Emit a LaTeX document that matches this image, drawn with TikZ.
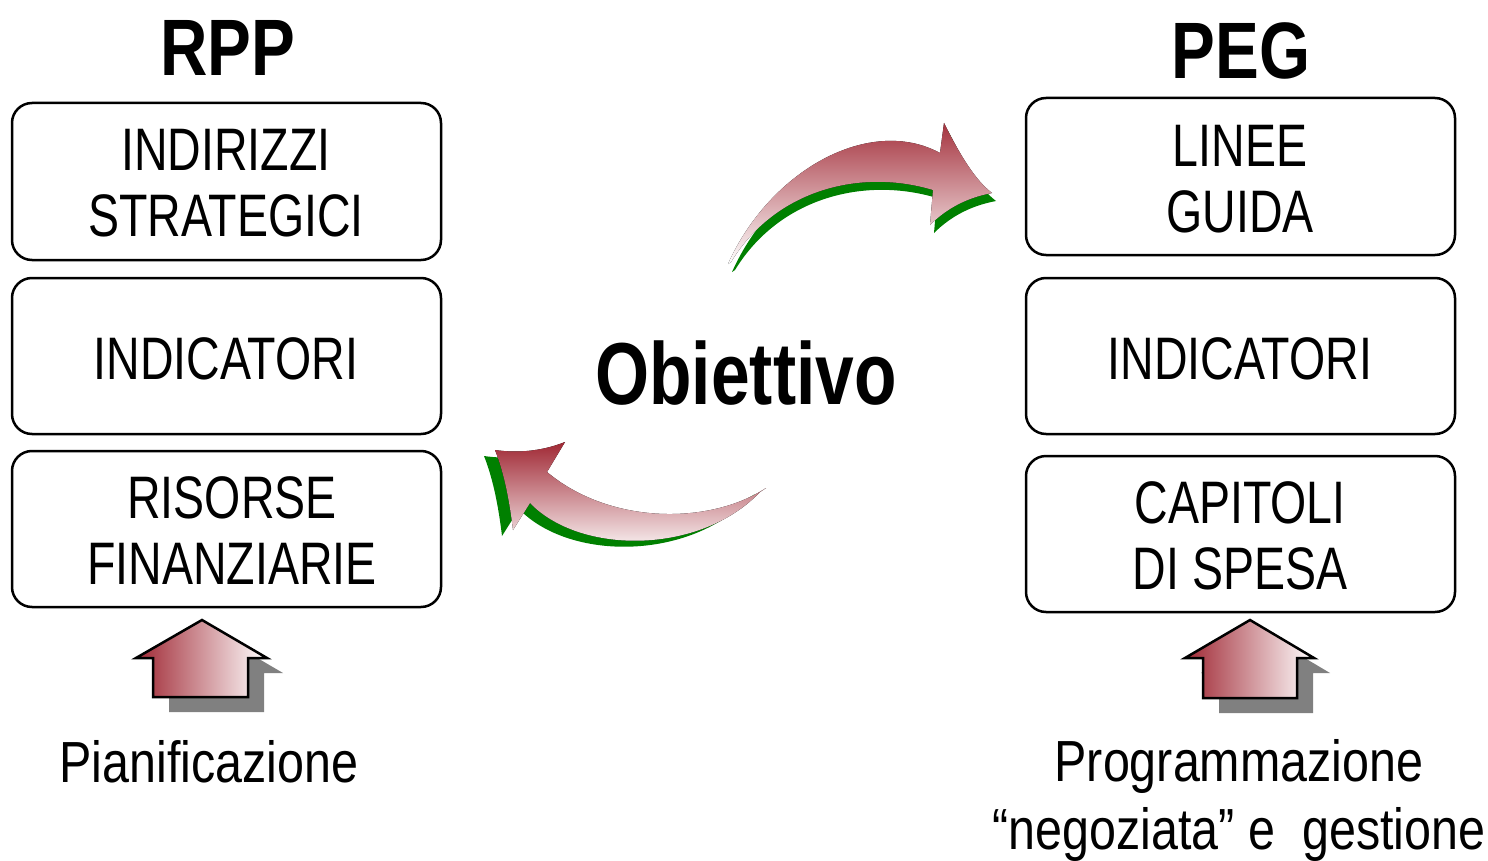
\documentclass[tikz,border=0pt]{standalone}
\usepackage{fontspec}
\newfontfamily\dfont{Liberation Sans}[FakeStretch=0.775]
\newfontfamily\lfont{Liberation Sans}[FakeStretch=0.835]
\newfontfamily\tfont{Liberation Sans}[FakeStretch=0.82]
\newfontfamily\ofont{Liberation Sans}[FakeStretch=0.79]
\definecolor{dred}{RGB}{160,40,52}
\definecolor{dgreen}{RGB}{0,128,0}
\definecolor{shgray}{RGB}{128,128,128}
\begin{document}
\begin{tikzpicture}[x=1pt,y=-1pt,
  box/.style={draw=black,line width=2.5pt,rounded corners=20pt},
  boxtext/.style={font=\dfont\fontsize{60}{66}\selectfont,align=center,inner sep=0pt},
  labeltext/.style={font=\lfont\fontsize{58}{68}\selectfont,align=center,inner sep=0pt},
  title/.style={font=\tfont\bfseries\fontsize{80}{90}\selectfont,inner sep=0pt},
  house/.style={draw=black,line width=2.5pt,left color=dred,right color=white,line join=miter},
  shadowhouse/.style={fill=shgray},
  arrowbody/.style={top color=dred,bottom color=white,draw=none},
  arrowshadow/.style={fill=dgreen,draw=none}]
\useasboundingbox (0,0) rectangle (1488,861);
% titles
\node[title] (rpp) at (228,48) {RPP};
\node[title] (peg) at (1241,51) {PEG};
% left boxes
\draw[box] (12,103) rectangle (441,260);
\draw[box] (12,278) rectangle (441,434);
\draw[box] (12,451) rectangle (441,607);
\node[boxtext] (l1) at (226,183) {INDIRIZZI\\STRATEGICI};
\node[boxtext] (l2) at (226,359) {INDICATORI};
\node[boxtext] (l3) at (232,531) {RISORSE\\FINANZIARIE};
% right boxes
\draw[box] (1026,98) rectangle (1455,255);
\draw[box] (1026,278) rectangle (1455,434);
\draw[box] (1026,456) rectangle (1455,612);
\node[boxtext] (r1) at (1240,179) {LINEE\\GUIDA};
\node[boxtext] (r2) at (1240,359) {INDICATORI};
\node[boxtext] (r3) at (1240,536) {CAPITOLI\\DI SPESA};
% center
\node[font=\ofont\bfseries\fontsize{88}{96}\selectfont,inner sep=0pt] (obj) at (746,373) {Obiettivo};
% top curved arrow
\fill[arrowshadow,shift={(4,8)}] (728,264) .. controls (770,170) and (870,115) .. (940,153)
  -- (944,123) .. controls (960,155) and (975,180) .. (992,193)
  .. controls (965,198) and (945,210) .. (930,225) -- (933,190)
  .. controls (860,168) and (775,190) .. (731,262) -- cycle;
\fill[arrowbody] (728,264) .. controls (770,170) and (870,115) .. (940,153)
  -- (944,123) .. controls (960,155) and (975,180) .. (992,193)
  .. controls (965,198) and (945,210) .. (930,225) -- (933,190)
  .. controls (860,168) and (775,190) .. (731,262) -- cycle;
% bottom curved arrow
\fill[arrowshadow,shift={(-11,6)}] (766,488) .. controls (710,525) and (610,525) .. (547,472)
  -- (565,442) .. controls (540,452) and (515,453) .. (495,450)
  .. controls (505,475) and (510,505) .. (513,530) -- (530,503)
  .. controls (580,555) and (700,555) .. (760,492) -- cycle;
\fill[arrowbody] (766,488) .. controls (710,525) and (610,525) .. (547,472)
  -- (565,442) .. controls (540,452) and (515,453) .. (495,450)
  .. controls (505,475) and (510,505) .. (513,530) -- (530,503)
  .. controls (580,555) and (700,555) .. (760,492) -- cycle;
% left house arrow
\fill[shadowhouse,shift={(16,15)}] (202,620) -- (267,658) -- (248,658) -- (248,697) -- (153,697) -- (153,658) -- (136,658) -- cycle;
\draw[house] (202,620) -- (267,658) -- (248,658) -- (248,697) -- (153,697) -- (153,658) -- (136,658) -- cycle;
% right house arrow
\fill[shadowhouse,shift={(16,15)}] (1250,620) -- (1314,658) -- (1297,658) -- (1297,698) -- (1203,698) -- (1203,658) -- (1185,658) -- cycle;
\draw[house] (1250,620) -- (1314,658) -- (1297,658) -- (1297,698) -- (1203,698) -- (1203,658) -- (1185,658) -- cycle;
% bottom labels
\node[labeltext] (pian) at (209,762) {Pianificazione};
\node[labeltext] (prog) at (1239,800) {Programmazione\\“negoziata” e\ \ gestione};
\end{tikzpicture}
\end{document}
